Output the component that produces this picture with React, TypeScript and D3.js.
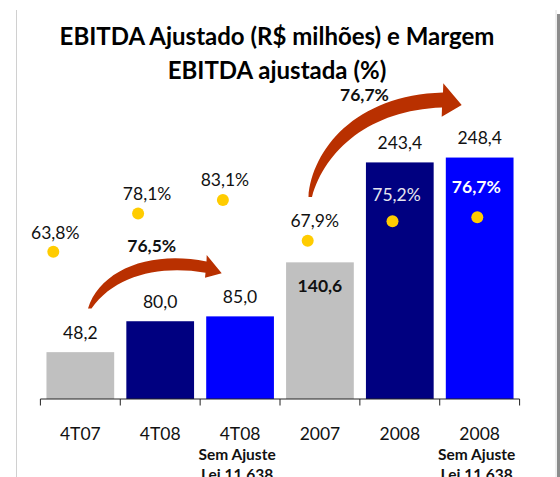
import React from "react";
import * as d3 from "d3";

const categories = ["4T07", "4T08", "4T08", "2007", "2008", "2008"];
const subLabels = ["", "", "Sem Ajuste|Lei 11.638", "", "", "Sem Ajuste|Lei 11.638"];
const ebitda = [48.2, 80.0, 85.0, 140.6, 243.4, 248.4];
const ebitdaLabels = ["48,2", "80,0", "85,0", "140,6", "243,4", "248,4"];
const margin = [63.8, 78.1, 83.1, 67.9, 75.2, 76.7];
const marginLabels = ["63,8%", "78,1%", "83,1%", "67,9%", "75,2%", "76,7%"];
const growthLabels = ["76,5%", "76,7%"];
const titleLines = ["EBITDA Ajustado (R$ milhões) e Margem", "EBITDA ajustada (%)"];

const barColors = ["#C0C0C0", "#000080", "#0000FF", "#C0C0C0", "#000080", "#0000FF"];
const labelInside = [false, false, false, true, false, false];
const mLabelDx = [2, 9, 2, 7, 4, -1];
const mLabelDy = [-13, -13, -14, -13.5, -20, -24.5];
const mLabelColor = ["#111", "#111", "#111", "#111", "#E6E6F0", "#FFFFFF"];
const mLabelBold = [false, false, false, false, false, true];

const FONT = "Lato, 'Open Sans', sans-serif";
const W = 560;
const H = 477;

export default function App() {
  const idx = categories.map((_, i) => String(i));
  const x = d3.scaleBand<string>().domain(idx).range([40.4, 519.6]).paddingInner(0.152).paddingOuter(0.076);
  const step = x.step();
  const y = d3.scaleLinear().domain([0, 300]).range([399, 107.4]);
  const x2 = d3.scalePoint<string>().domain(idx).range([53.3, 477.3]).padding(0);
  const y2 = d3.scaleLinear().domain([60, 90]).range([261.9, 181.5]);

  const baseY = y(0);
  const tickXs = d3.range(categories.length + 1).map((k) => 40.4 + k * step);

  const arrow1 =
    "M88,308.5 C100,270 150,250 206.5,261.5 L206.7,255 L221.7,273.3 L205,277.7 L205.5,272.7 C160,265 115,275 91.5,308.5 Z";
  const arrow2 =
    "M308.5,197 C312,150 355,95 443,92.5 L443.3,83.3 L461.7,105 L441.7,116.7 L442,107.5 C370,110 325,150 312,197 Z";

  return (
    <svg width={W} height={H} style={{ position: "absolute", left: 0, top: 0, background: "#fff" }} fontFamily={FONT}>
      <rect x={0} y={0} width={W} height={H} fill="#fff" />
      <line x1={16.5} y1={10} x2={16.5} y2={H} stroke="#D0D0D0" strokeWidth={1} />
      <line x1={556} y1={10} x2={556} y2={H} stroke="#E0E0E0" strokeWidth={1} />
      <rect x={557} y={14} width={3} height={H - 14} fill="#8C8C8C" />

      {titleLines.map((t, i) => (
        <text key={t} x={277} y={44.6 + i * 34} textAnchor="middle" fontWeight="bold" fontSize={24} fill="#000">
          {t}
        </text>
      ))}

      {ebitda.map((v, i) => (
        <rect key={"b" + i} x={x(String(i))} y={y(v)} width={x.bandwidth()} height={baseY - y(v)} fill={barColors[i]} />
      ))}

      {ebitda.map((v, i) => (
        <text
          key={"bl" + i}
          x={(x(String(i)) as number) + x.bandwidth() / 2}
          y={labelInside[i] ? y(v) + 29.6 : y(v) - 13.5}
          textAnchor="middle"
          fontSize={17.5}
          fontWeight={labelInside[i] ? "bold" : "normal"}
          fill="#111"
        >
          {ebitdaLabels[i]}
        </text>
      ))}

      <line x1={40.4} y1={baseY} x2={519.6} y2={baseY} stroke="#222" strokeWidth={1} />
      {tickXs.map((tx, k) => (
        <line key={"t" + k} x1={tx} y1={baseY} x2={tx} y2={baseY + 6.5} stroke="#222" strokeWidth={1} />
      ))}

      {categories.map((c, i) => {
        const cx = (x(String(i)) as number) + x.bandwidth() / 2;
        const subs = subLabels[i] ? subLabels[i].split("|") : [];
        return (
          <g key={"c" + i}>
            <text x={cx} y={440} textAnchor="middle" fontSize={17.5} fill="#111">
              {c}
            </text>
            {subs.map((s, j) => (
              <text key={j} x={cx - 3} y={459.5 + j * 20} textAnchor="middle" fontSize={15.5} fontWeight="bold" fill="#111">
                {s}
              </text>
            ))}
          </g>
        );
      })}

      <path d={arrow1} fill="#B93000" />
      <path d={arrow2} fill="#B93000" />
      <text x={151.7} y={252.3} textAnchor="middle" fontSize={17.5} fontWeight="bold" fill="#111">
        {growthLabels[0]}
      </text>
      <text x={364.5} y={100.7} textAnchor="middle" fontSize={17.5} fontWeight="bold" fill="#111">
        {growthLabels[1]}
      </text>

      {margin.map((m, i) => (
        <circle key={"d" + i} cx={x2(String(i))} cy={y2(m)} r={6} fill="#FFCC00" />
      ))}
      {margin.map((m, i) => (
        <text
          key={"dl" + i}
          x={(x2(String(i)) as number) + mLabelDx[i]}
          y={y2(m) + mLabelDy[i]}
          textAnchor="middle"
          fontSize={17.5}
          fontWeight={mLabelBold[i] ? "bold" : "normal"}
          fill={mLabelColor[i]}
        >
          {marginLabels[i]}
        </text>
      ))}
    </svg>
  );
}
